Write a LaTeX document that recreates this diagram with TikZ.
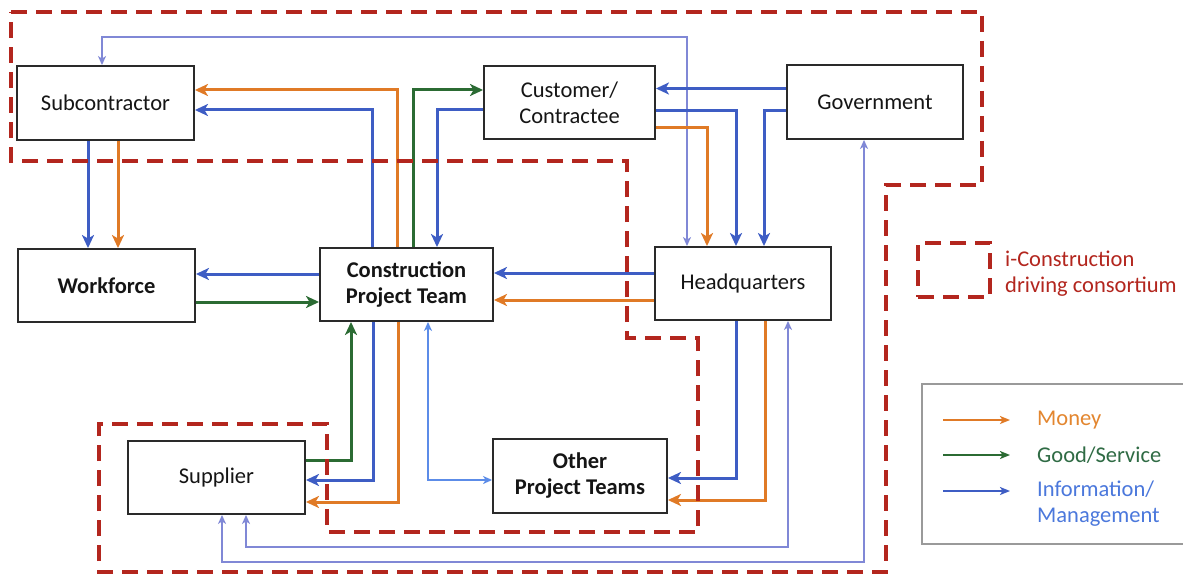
\documentclass[tikz,border=0pt]{standalone}
\usepackage{fontspec}
\setmainfont{Carlito}
\usetikzlibrary{arrows.meta}

\definecolor{moneyc}{HTML}{E07A26}
\definecolor{goodc}{HTML}{2B6B33}
\definecolor{infoc}{HTML}{3E5DC4}
\definecolor{linkc}{HTML}{8088D6}
\definecolor{peerc}{HTML}{5C8CE8}
\definecolor{zonec}{HTML}{B3261E}
\definecolor{boxc}{HTML}{2A2A2A}
\definecolor{inkc}{HTML}{151515}
\definecolor{framec}{HTML}{9A9A9A}
\definecolor{moneytxt}{HTML}{E3862F}
\definecolor{goodtxt}{HTML}{2F6B44}
\definecolor{infotxt}{HTML}{4B78DC}

\newcommand{\dgfont}{\fontsize{22.5}{26}\selectfont}

\tikzset{
  actor/.style={draw=boxc, line width=1.9pt, fill=white, inner sep=0pt,
    align=center, text=inkc, font=\dgfont},
  flowtip/.style={-{Stealth[length=13pt,width=12pt,inset=3.5pt]}},
  moneyflow/.style={draw=moneyc, line width=3pt, flowtip},
  goodflow/.style={draw=goodc, line width=3pt, flowtip},
  infoflow/.style={draw=infoc, line width=3pt, flowtip},
  linkflow/.style={draw=linkc, line width=1.3pt,
    {Stealth[length=9pt,width=8pt,inset=2.5pt]}-{Stealth[length=9pt,width=8pt,inset=2.5pt]}},
  peerflow/.style={draw=peerc, line width=1.3pt,
    {Stealth[length=9pt,width=8pt,inset=2.5pt]}-{Stealth[length=9pt,width=8pt,inset=2.5pt]}},
  zoneline/.style={draw=zonec, line width=3.8pt, dash pattern=on 16pt off 9pt},
  legtext/.style={anchor=west, inner sep=0pt, align=left, font=\dgfont},
  legarrow/.style={line width=1.6pt, -{Stealth[length=10pt,width=8pt,inset=2.5pt]}},
}

\begin{document}
\begin{tikzpicture}[x=1pt, y=-1pt]
\fill[white] (0,0) rectangle (1183,575);
\useasboundingbox (0,0) rectangle (1183,575);

% stakeholders
\node[actor, minimum width=177pt, minimum height=74pt] (sub) at (105.5,103) {Subcontractor};
\node[actor, minimum width=171pt, minimum height=73pt] (cust) at (569.5,102.5) {Customer/\\Contractee};
\node[actor, minimum width=176pt, minimum height=74pt] (gov) at (875,102) {Government};
\node[actor, minimum width=177pt, minimum height=73pt, font=\dgfont\bfseries] (wf) at (106.5,285.5) {Workforce};
\node[actor, minimum width=173pt, minimum height=73pt, font=\dgfont\bfseries] (cpt) at (406.5,284.5) {Construction\\Project Team};
\node[actor, minimum width=176pt, minimum height=73pt] (hq) at (743,283.5) {Headquarters};
\node[actor, minimum width=177pt, minimum height=73pt] (sup) at (216.5,477.5) {Supplier};
\node[actor, minimum width=174pt, minimum height=74pt, font=\dgfont\bfseries] (oth) at (580,476) {Other\\Project Teams};

% bus corners of the long two-way information links
\coordinate (topbus) at (400,37);
\coordinate (midbus) at (500,547);
\coordinate (lowbus) at (500,562);

% two-way information links
\draw[linkflow] ([xshift=-3.5pt]sub.north) |- (topbus) -| ([xshift=-56pt]hq.north);
\draw[linkflow] ([xshift=29.5pt]sup.south) |- (midbus) -| ([xshift=45pt]hq.south);
\draw[linkflow] ([xshift=5.5pt]sup.south) |- (lowbus) -| ([xshift=-11pt]gov.south);
\draw[peerflow] ([xshift=21.5pt]cpt.south) |- ([yshift=-4pt]oth.west);

% project team and subcontractor
\draw[infoflow] ([xshift=-34.5pt]cpt.north) |- ([yshift=-7pt]sub.east);
\draw[moneyflow] ([xshift=-9.5pt]cpt.north) |- ([yshift=13pt]sub.east);
\draw[goodflow] ([xshift=6.5pt]cpt.north) |- ([yshift=12.5pt]cust.west);
\draw[infoflow] ([yshift=-7.5pt]cust.west) -| ([xshift=30.5pt]cpt.north);

% customer, government and headquarters
\draw[infoflow] ([yshift=13.5pt]gov.west) -- ([yshift=14pt]cust.east);
\draw[infoflow] ([yshift=-8pt]cust.east) -| ([xshift=-7pt]hq.north);
\draw[infoflow] ([yshift=-8.5pt]gov.west) -| ([xshift=21pt]hq.north);
\draw[moneyflow] ([yshift=-25pt]cust.east) -| ([xshift=-36pt]hq.north);

% subcontractor and workforce
\draw[infoflow] ([xshift=-17.5pt]sub.south) -- ([xshift=-18.5pt]wf.north);
\draw[moneyflow] ([xshift=12.5pt]sub.south) -- ([xshift=11.5pt]wf.north);
\draw[infoflow] ([yshift=10.5pt]cpt.west) -- ([yshift=11.5pt]wf.east);
\draw[goodflow] ([yshift=-16.5pt]wf.east) -- ([yshift=-17.5pt]cpt.west);

% headquarters and project teams
\draw[infoflow] ([yshift=10.5pt]hq.west) -- ([yshift=11.5pt]cpt.east);
\draw[moneyflow] ([yshift=-16.5pt]hq.west) -- ([yshift=-15.5pt]cpt.east);
\draw[infoflow] ([xshift=-7pt]hq.south) |- ([yshift=-2pt]oth.east);
\draw[moneyflow] ([xshift=22pt]hq.south) |- ([yshift=-24pt]oth.east);

% supplier
\draw[goodflow] ([yshift=17.5pt]sup.east) -| ([xshift=-55.5pt]cpt.south);
\draw[infoflow] ([xshift=-33.5pt]cpt.south) |- ([yshift=-2.5pt]sup.east);
\draw[moneyflow] ([xshift=-8.5pt]cpt.south) |- ([yshift=-24.5pt]sup.east);

% i-Construction driving consortium
\draw[zoneline] (11,12) -- (982,12) -- (982,185) -- (886,185) -- (886,572)
  -- (99,572) -- (99,424) -- (327,424) -- (327,532) -- (698,532)
  -- (698,338) -- (627,338) -- (627,161) -- (11,161) -- cycle;

% key
\node[zoneline, minimum width=72pt, minimum height=54pt, inner sep=0pt] (keybox) at (954,270) {};
\node[legtext, text=zonec] (keytext) at (1005,273.5) {i-Construction\\driving consortium};

\draw[framec, line width=1.3pt] (1183,384) -- (922,384) -- (922,544) -- (1183,544);
\node[legtext, text=moneytxt] (lmoney) at (1037,420) {Money};
\node[legtext, text=goodtxt] (lgood) at (1037,455) {Good/Service};
\node[legtext, text=infotxt] (linfo) at (1037,504) {Information/\\Management};
\coordinate (amoney) at (943,420);
\coordinate (agood) at (943,455);
\coordinate (ainfo) at (943,491);
\draw[legarrow, draw=moneyc] (amoney) -- ([xshift=-27pt]lmoney.west);
\draw[legarrow, draw=goodc] (agood) -- ([xshift=-27pt]lgood.west);
\draw[legarrow, draw=infoc] (ainfo) -- ([xshift=-27pt,yshift=13pt]linfo.west);
\end{tikzpicture}
\end{document}
